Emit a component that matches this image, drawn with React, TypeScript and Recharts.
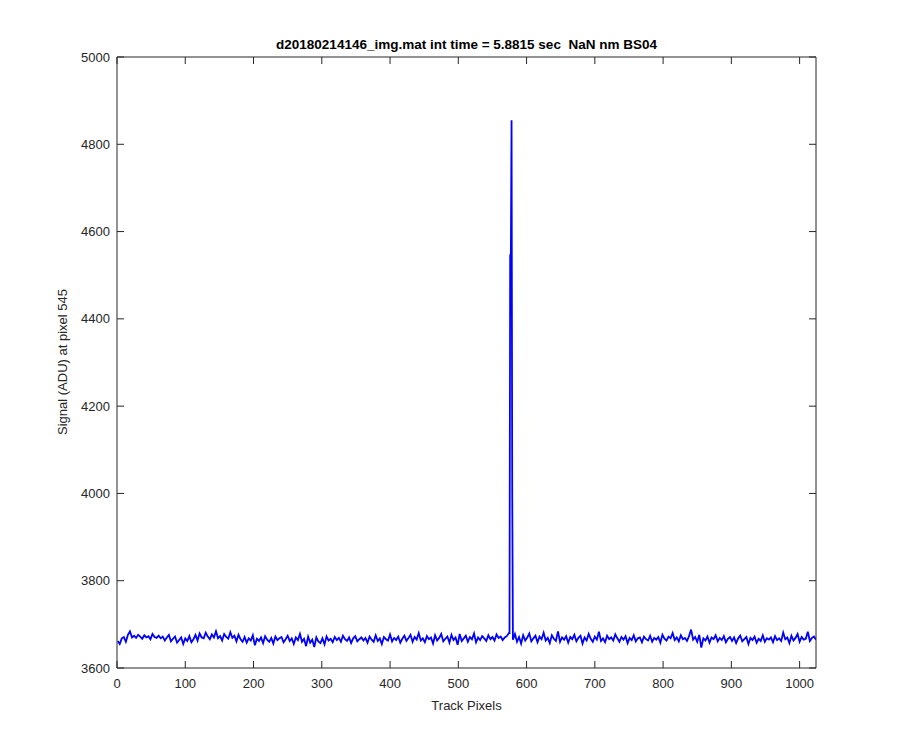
import React from 'react';
import { LineChart, Line, XAxis, YAxis } from 'recharts';

// track pixel sampling of the baseline trace (every 3rd pixel, starting at 1)
const pixelStart = 1;
const pixelStep = 3;

const signal = [
  3662, 3655, 3668, 3671, 3660, 3676, 3684, 3670, 3674, 3669, 3676, 3672, 3667, 3675, 3670, 3673, 3666, 3678, 3671, 3669,
  3674, 3668, 3672, 3663, 3670, 3676, 3661, 3667, 3672, 3658, 3664, 3670, 3655, 3668, 3662, 3673, 3659, 3666, 3676, 3663,
  3679, 3670, 3668, 3681, 3672, 3666, 3677, 3670, 3684, 3668, 3673, 3663, 3678, 3671, 3667, 3682, 3669, 3674, 3661, 3676,
  3666, 3660, 3671, 3658, 3668, 3663, 3675, 3652, 3667, 3662, 3670, 3657, 3673, 3665, 3660, 3669, 3656, 3672, 3664, 3668,
  3671, 3659, 3666, 3674, 3662, 3668, 3655, 3670, 3664, 3678, 3660, 3667, 3650, 3672, 3658, 3665, 3648, 3670, 3661, 3657,
  3668, 3654, 3672, 3663, 3667, 3659, 3671, 3664, 3669, 3660, 3674, 3666, 3662, 3670, 3657, 3668, 3673, 3661, 3666, 3670,
  3663, 3669, 3658, 3672, 3665, 3660, 3675, 3662, 3668, 3655, 3671, 3666, 3663, 3677, 3661, 3669, 3664, 3672, 3658, 3667,
  3674, 3662, 3669, 3676, 3660, 3671, 3665, 3680, 3663, 3668, 3659, 3673, 3666, 3670, 3656, 3675, 3663, 3669, 3678, 3661,
  3667, 3672, 3658, 3676, 3664, 3670, 3653, 3678, 3662, 3668, 3674, 3660, 3671, 3666, 3679, 3659, 3670, 3664, 3673, 3668,
  3662, 3675, 3666, 3671, 3663, 3677, 3669, 3672, 3664, 3670, 3673, 3680, 3666, 3652, 3678, 3660, 3671, 3656, 3675, 3663,
  3670, 3679, 3661, 3668, 3674, 3659, 3672, 3666, 3681, 3663, 3669, 3657, 3675, 3667, 3662, 3684, 3660, 3670, 3665, 3673,
  3658, 3671, 3666, 3676, 3661, 3669, 3674, 3656, 3670, 3663, 3678, 3667, 3660, 3672, 3665, 3683, 3662, 3668, 3659, 3674,
  3666, 3670, 3663, 3677, 3668, 3660, 3671, 3665, 3673, 3657, 3669, 3664, 3675, 3661, 3668, 3670, 3659, 3672, 3666, 3663,
  3674, 3660, 3669, 3665, 3671, 3658, 3676, 3667, 3663, 3672, 3668, 3680, 3664, 3670, 3661, 3675, 3666, 3669, 3662, 3673,
  3688, 3665, 3671, 3660, 3676, 3647, 3668, 3663, 3672, 3658, 3670, 3666, 3675, 3661, 3669, 3664, 3673, 3659, 3667, 3671,
  3662, 3670, 3657, 3668, 3674, 3661, 3666, 3671, 3655, 3669, 3664, 3672, 3658, 3667, 3662, 3675, 3660, 3668, 3665, 3670,
  3659, 3673, 3664, 3668, 3662, 3681, 3666, 3670, 3657, 3674, 3663, 3669, 3678, 3660, 3671, 3665, 3667, 3683, 3662, 3669,
  3672, 3665,
];

// the spike, at full pixel resolution
const spikePixels = [575, 576, 577, 578, 579, 580];
const spikeValues = [3680, 4545, 4550, 4855, 4000, 3665];

const xTicks = [0, 100, 200, 300, 400, 500, 600, 700, 800, 900, 1000];
const yTicks = [3600, 3800, 4000, 4200, 4400, 4600, 4800, 5000];

const baseline = signal
  .map((v, i) => ({ px: pixelStart + i * pixelStep, adu: v }))
  .filter((d) => d.px < spikePixels[0] || d.px > spikePixels[spikePixels.length - 1]);
const spike = spikePixels.map((p, i) => ({ px: p, adu: spikeValues[i] }));
const data = [...baseline, ...spike].sort((a, b) => a.px - b.px);

const axisColor = '#262626';
const font = '"Liberation Sans", Arial, Helvetica, sans-serif';
const tickStyle = { fill: axisColor, fontSize: 13, fontFamily: font };

export default function App() {
  return (
    <div style={{ position: 'absolute', left: 0, top: 0, width: 900, height: 750, background: '#fff', fontFamily: font }}>
      <LineChart
        width={900}
        height={750}
        data={data}
        margin={{ top: 56, right: 83, bottom: 52, left: 57 }}
      >
        <XAxis
          dataKey="px"
          type="number"
          domain={[0, 1024]}
          ticks={xTicks}
          allowDataOverflow
          stroke={axisColor}
          tickSize={-7}
          tickMargin={18}
          tick={tickStyle}
          height={30}
        />
        <XAxis
          xAxisId="top"
          orientation="top"
          dataKey="px"
          type="number"
          domain={[0, 1024]}
          ticks={xTicks}
          allowDataOverflow
          stroke={axisColor}
          tickSize={-7}
          tickFormatter={() => ''}
          height={1}
        />
        <YAxis
          type="number"
          domain={[3600, 5000]}
          ticks={yTicks}
          allowDataOverflow
          stroke={axisColor}
          tickSize={-7}
          tickMargin={14}
          tick={tickStyle}
          width={60}
        />
        <YAxis
          yAxisId="right"
          orientation="right"
          type="number"
          domain={[3600, 5000]}
          ticks={yTicks}
          allowDataOverflow
          stroke={axisColor}
          tickSize={-7}
          tickFormatter={() => ''}
          width={1}
        />
        <Line
          dataKey="adu"
          stroke="#0000ff"
          strokeWidth={1.8}
          dot={false}
          isAnimationActive={false}
        />
      </LineChart>

      {/* title and axis labels */}
      <div style={{ position: 'absolute', left: 117, width: 699, top: 37, textAlign: 'center', fontSize: 13.5, fontWeight: 'bold', color: '#000', whiteSpace: 'pre' }}>
        {'d20180214146_img.mat int time = 5.8815 sec  NaN nm BS04'}
      </div>
      <div style={{ position: 'absolute', left: 117, width: 699, top: 698, textAlign: 'center', fontSize: 13, color: axisColor }}>
        Track Pixels
      </div>
      <div
        style={{
          position: 'absolute', left: 63, top: 362, width: 300, marginLeft: -150, marginTop: -8,
          textAlign: 'center', fontSize: 13, color: axisColor, transform: 'rotate(-90deg)', lineHeight: '16px',
        }}
      >
        Signal (ADU) at pixel 545
      </div>
    </div>
  );
}
